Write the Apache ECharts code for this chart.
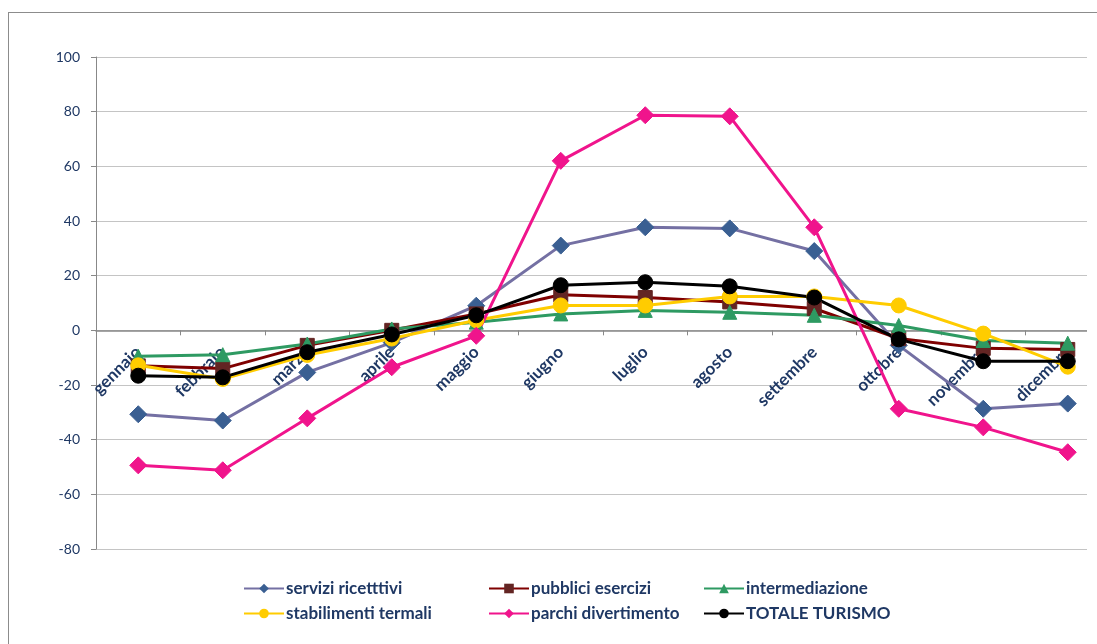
<!DOCTYPE html>
<html>
<head>
<meta charset="utf-8">
<script src="https://cdn.jsdelivr.net/npm/echarts@6/dist/echarts.min.js"></script>
<style>
  html, body { margin: 0; padding: 0; background: #fff; overflow: hidden; }
  #wrap { position: absolute; left: 0; top: 0; width: 1087px; height: 644px; overflow: hidden; }
  #chart { width: 1110px; height: 644px; }
  #frame { position: absolute; left: 8px; top: 12px; width: 1200px; height: 700px; border: 1px solid #8c8c8c; pointer-events: none; }
</style>
</head>
<body>
<div id="wrap"><div id="chart"></div></div>
<div id="frame"></div>
<script>
// dati (variazioni %)
const mesi = ['gennaio', 'febbraio', 'marzo', 'aprile', 'maggio', 'giugno', 'luglio', 'agosto', 'settembre', 'ottobre', 'novembre', 'dicembre']
const serviziRicettivi = [-30.7, -33, -15.4, -4.5, 9, 31, 37.7, 37.3, 29, -5.5, -28.7, -26.8]
const pubbliciEsercizi = [-13, -14, -5.5, 0, 6, 13, 12, 10.4, 8, -3, -6.6, -7]
const intermediazione = [-9.5, -8.9, -5, 0.5, 3, 6, 7.3, 6.6, 5.5, 1.8, -3.7, -4.7]
const stabilimentiTermali = [-12.8, -17.8, -9, -3, 3.7, 9.1, 9.1, 12.4, 12.4, 9.1, -1.2, -13.3]
const parchiDivertimento = [-49.4, -51.2, -32.2, -13.5, -2, 62, 78.7, 78.3, 37.7, -28.7, -35.5, -44.6]
const totaleTurismo = [-16.6, -17.2, -8, -1.5, 5.5, 16.5, 17.6, 16.1, 12, -3.3, -11.3, -11.3]
const yTicks = { min: -80, max: 100, step: 20 }

const navy = '#1F3864'
const font = 'Lato'

const chart = echarts.init(document.getElementById('chart'))

const mkSeries = (name, data, lineColor, markColor, symbol, size) => ({
  name,
  type: 'line',
  data,
  symbol,
  symbolSize: size,
  showSymbol: true,
  lineStyle: { color: lineColor, width: 3 },
  itemStyle: { color: markColor, borderColor: markColor },
  emphasis: { disabled: true },
  animation: false
})

const mkLegend = (name, left, top) => ({
  data: [name],
  left,
  top,
  itemWidth: 40,
  itemHeight: 12,
  itemGap: 0,
  padding: 0,
  selectedMode: false,
  textStyle: { color: navy, fontFamily: font, fontWeight: 'bold', fontSize: 17, padding: [0, 0, 0, -3] }
})

// asse x all'altezza dello zero: offset dal fondo del grid
const plotTop = 57
const plotBottom = 549
const zeroOffset = (plotBottom - plotTop) * yTicks.min / (yTicks.max - yTicks.min)

chart.setOption({
  backgroundColor: '#fff',
  legend: [
    mkLegend('servizi ricetttivi', 243, 580),
    mkLegend('pubblici esercizi', 488, 580),
    mkLegend('intermediazione', 703, 580),
    mkLegend('stabilimenti termali', 243, 605),
    mkLegend('parchi divertimento', 488, 605),
    mkLegend('TOTALE TURISMO', 703, 605)
  ],
  grid: { left: 96, right: 0, top: plotTop, bottom: 644 - plotBottom, containLabel: false },
  xAxis: {
    type: 'category',
    data: mesi,
    position: 'bottom',
    offset: zeroOffset,
    axisLine: { onZero: false, lineStyle: { color: '#888', width: 1.5 } },
    axisTick: { show: true, length: 5, lineStyle: { color: '#888' } },
    axisLabel: {
      rotate: 45,
      margin: 19,
      color: navy,
      fontFamily: font,
      fontWeight: 'bold',
      fontSize: 17,
      interval: 0
    },
    splitLine: { show: false }
  },
  yAxis: {
    type: 'value',
    min: yTicks.min,
    max: yTicks.max,
    interval: yTicks.step,
    axisLine: { show: true, lineStyle: { color: '#888' } },
    axisTick: { show: true, length: 5, lineStyle: { color: '#888' } },
    axisLabel: { color: navy, fontFamily: font, fontSize: 14, margin: 16 },
    splitLine: { lineStyle: { color: '#c4c4c4', width: 1 } }
  },
  series: [
    mkSeries('servizi ricetttivi', serviziRicettivi, '#7470A3', '#3A5F92', 'diamond', 17),
    mkSeries('pubblici esercizi', pubbliciEsercizi, '#7F0000', '#632523', 'rect', 14),
    mkSeries('intermediazione', intermediazione, '#2E9A62', '#2E9A62', 'triangle', 14),
    mkSeries('stabilimenti termali', stabilimentiTermali, '#FFCC00', '#FFCC00', 'circle', 15),
    mkSeries('parchi divertimento', parchiDivertimento, '#F0148C', '#F0148C', 'diamond', 17),
    mkSeries('TOTALE TURISMO', totaleTurismo, '#000000', '#000000', 'circle', 15)
  ]
})
</script>
</body>
</html>
